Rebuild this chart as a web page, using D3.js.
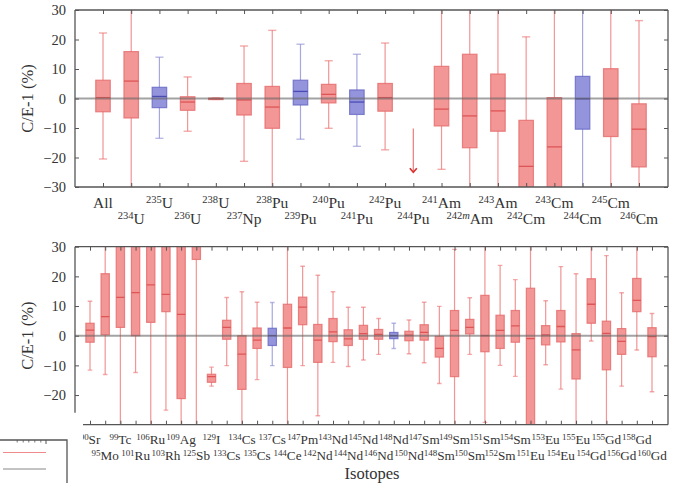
<!DOCTYPE html>
<html>
<head>
<meta charset="utf-8">
<script src="https://cdnjs.cloudflare.com/ajax/libs/d3/7.8.5/d3.min.js"></script>
<style>
  body { margin: 0; background: #fff; }
  svg { font-family: "Liberation Serif", "DejaVu Serif", serif; }
</style>
</head>
<body>
<svg id="chart" width="673" height="483"></svg>
<script>
// box stats per isotope: [whisker low, q1, median, q3, whisker high]  (values beyond +/-30 are clipped)
const topCats = ["All", "234U", "235U", "236U", "238U", "237Np", "238Pu", "239Pu", "240Pu", "241Pu",
  "242Pu", "244Pu", "241Am", "242mAm", "243Am", "242Cm", "243Cm", "244Cm", "245Cm", "246Cm"];
const topBoxes = [
  [-20.5, -4.5, 0.3, 6.2, 22.2],
  [-40, -6.6, 5.9, 15.9, 40],
  [-13.5, -3.1, 0.7, 3.8, 14],
  [-11.1, -4, -1.2, 0.6, 7.3],
  [-0.3, -0.25, -0.1, 0.15, 0.2],
  [-21.3, -5.6, -0.5, 5.1, 17.8],
  [-40, -10.1, -2.9, 4.1, 23.1],
  [-13.8, -2.2, 2.4, 6.2, 18.4],
  [-10.1, -1.5, 1.4, 4.8, 12.8],
  [-16.2, -5.4, -1.2, 2.9, 15],
  [-17.4, -4.3, 0.3, 5.1, 18.8],
  null,
  [-24, -9.3, -3.6, 10.9, 40],
  [-40, -16.7, -5.9, 15, 40],
  [-40, -11.1, -4.2, 8.3, 40],
  [-40, -40, -23, -7.4, 20.9],
  [-40, -40, -16.4, 0.3, 40],
  [-40, -10.4, -0.1, 7.5, 40],
  [-40, -12.9, -0.1, 10.1, 40],
  [-40, -23.2, -10.4, -1.8, 26.4]
];
const topBlue = ["235U", "239Pu", "241Pu", "244Cm"];
// 244Pu is shown only as an arrow: [from, to]
const topArrow = { cat: "244Pu", from: -10.2, to: -25 };

const botCats = ["90Sr", "95Mo", "99Tc", "101Ru", "106Ru", "103Rh", "109Ag", "125Sb", "129I", "133Cs",
  "134Cs", "135Cs", "137Cs", "144Ce", "147Pm", "142Nd", "143Nd", "144Nd", "145Nd", "146Nd",
  "148Nd", "150Nd", "147Sm", "148Sm", "149Sm", "150Sm", "151Sm", "152Sm", "154Sm", "151Eu",
  "153Eu", "154Eu", "155Eu", "154Gd", "155Gd", "156Gd", "158Gd", "160Gd"];
const botBoxes = [
  [-11.6, -2.2, 1.9, 4.2, 11.6],
  [-13.1, 0.3, 6.4, 20.9, 40],
  [-40, 2.8, 12.9, 40, 40],
  [-12.4, 0, 14.5, 40, 40],
  [-40, 4.5, 17.1, 40, 40],
  [-25.1, 8.1, 13.9, 40, 40],
  [-40, -21.2, 7.2, 40, 40],
  [-40, 25.7, 35, 40, 40],
  [-17, -15.7, -13.8, -13, -10.6],
  [-10.1, -1.2, 2.8, 5.2, 12.9],
  [-40, -18.1, -6.2, 0, 14.8],
  [-14.8, -4.3, -1.5, 2.6, 11.3],
  [-10.1, -3.3, 0, 2.5, 11.2],
  [-40, -10.7, 2.6, 10.6, 40],
  [-10.1, 3.7, 9.6, 13, 23.4],
  [-27, -9, -1.5, 3.8, 20.4],
  [-9, -2, 1.3, 5.8, 14.8],
  [-10.4, -3.3, -1.1, 2, 9.6],
  [-8.2, -1.2, 0.7, 3.5, 9.6],
  [-6.3, -1.2, 0.4, 2.1, 5.8],
  [-4.3, -1, 0, 1.1, 4.2],
  [-6.1, -1.7, 0.2, 1.5, 5.3],
  [-9.1, -1.5, 1.1, 3.7, 11.3],
  [-16.1, -7.2, -4.3, -0.2, 9.9],
  [-40, -13.8, 1.8, 8.5, 29.1],
  [-6.3, 0.6, 2.8, 5.5, 12.8],
  [-29.2, -5.4, 0, 13.6, 40],
  [-10, -4.3, 1.8, 6.9, 23.7],
  [-13.7, -2.2, 3.3, 8.5, 18.9],
  [-40, -40, -1, 16, 40],
  [-9.8, -3.1, 0.3, 3.4, 11.8],
  [-18, -2.1, 3.1, 8.5, 23.3],
  [-40, -14.6, -4.8, 0.7, 20.9],
  [-1.8, 4.2, 10.6, 19.2, 40],
  [-40, -11.5, 0.8, 4.9, 27],
  [-17, -6.3, -1.9, 2.4, 14.5],
  [-4.8, 8.1, 11.9, 19.3, 40],
  [-18.9, -7.1, -0.3, 2.7, 7.5]
];
const botBlue = ["137Cs", "148Nd"];

const yTicks = [-30, -20, -10, 0, 10, 20, 30];
const yTicksBot = [-20, -10, 0, 10, 20, 30];

const svg = d3.select("#chart");
const frameColor = "#555";
const red = { fill: "#f29696", edge: "#e66a6a", med: "#df5555", whisk: "#ec7272" };
const blue = { fill: "#9494dc", edge: "#6666c6", med: "#4b4bb5", whisk: "#8a8ad6" };

function labelText(sel, name) {
  const m = name.match(/^(\d+)(m?)(.*)$/);
  if (!m) { sel.append("tspan").text(name); return; }
  sel.append("tspan").attr("font-size", "0.68em").attr("dy", "-0.45em").text(m[1]);
  if (m[2]) sel.append("tspan").attr("font-size", "0.68em").attr("font-style", "italic").text(m[2]);
  sel.append("tspan").attr("dy", "0.3em").text(m[3]);
}

function panel(opt) {
  const { cats, boxes, blues, x, y, left, right, top, bottom, boxW, id } = opt;
  const g = svg.append("g");

  g.append("clipPath").attr("id", "clip" + id)
    .append("rect").attr("x", left).attr("y", top).attr("width", right - left).attr("height", bottom - top);
  const plot = g.append("g").attr("clip-path", `url(#clip${id})`);

  cats.forEach((c, i) => {
    const b = boxes[i];
    if (!b) return;
    const col = blues.includes(c) ? blue : red;
    const cx = x(c);
    // whisker
    plot.append("line").attr("x1", cx).attr("x2", cx).attr("y1", y(b[0])).attr("y2", y(b[4]))
      .attr("stroke", col.whisk).attr("stroke-width", 1.2).attr("stroke-opacity", 0.75);
    [b[0], b[4]].forEach(v => {
      plot.append("line").attr("x1", cx - boxW * 0.28).attr("x2", cx + boxW * 0.28)
        .attr("y1", y(v)).attr("y2", y(v))
        .attr("stroke", col.whisk).attr("stroke-width", 1.4).attr("stroke-opacity", 0.6);
    });
    plot.append("rect").attr("x", cx - boxW / 2).attr("width", boxW)
      .attr("y", y(b[3])).attr("height", Math.max(1.5, y(b[1]) - y(b[3])))
      .attr("fill", col.fill).attr("stroke", col.edge).attr("stroke-width", 1.2).attr("stroke-opacity", 0.8);
    plot.append("line").attr("x1", cx - boxW / 2).attr("x2", cx + boxW / 2)
      .attr("y1", y(b[2])).attr("y2", y(b[2]))
      .attr("stroke", col.med).attr("stroke-width", 1.3);
  });

  // zero reference line
  plot.append("line").attr("x1", left).attr("x2", right).attr("y1", y(0)).attr("y2", y(0))
    .attr("stroke", "#666").attr("stroke-width", 2).attr("stroke-opacity", 0.6);

  // ticks
  const tickStyle = s => { s.select(".domain").remove(); s.selectAll("line").attr("stroke", frameColor); };
  g.append("g").attr("transform", `translate(0,${top})`)
    .call(d3.axisTop(x).tickSizeInner(-4).tickSizeOuter(0).tickFormat(""))
    .call(tickStyle);
  g.append("g").attr("transform", `translate(0,${bottom})`)
    .call(d3.axisBottom(x).tickSizeInner(-4).tickSizeOuter(0).tickFormat(""))
    .call(tickStyle);
  const ya = g.append("g").attr("transform", `translate(${left},0)`)
    .call(d3.axisLeft(y).tickValues(opt.ticks).tickSizeInner(-4).tickSizeOuter(0).tickPadding(9))
    .call(tickStyle);
  ya.selectAll("text").attr("font-size", 14.5).attr("fill", "#333").attr("font-family", "Liberation Serif, serif");
  g.append("g").attr("transform", `translate(${right},0)`)
    .call(d3.axisRight(y).tickValues(opt.ticks).tickSizeInner(-4).tickSizeOuter(0).tickFormat(""))
    .call(tickStyle);

  // frame
  const fr = g.append("g").attr("stroke", frameColor).attr("stroke-width", 1.3).attr("fill", "none");
  fr.append("line").attr("x1", left).attr("x2", right).attr("y1", top).attr("y2", top);
  fr.append("line").attr("x1", opt.bottomStart).attr("x2", right).attr("y1", bottom).attr("y2", bottom);
  fr.append("line").attr("x1", left).attr("x2", left).attr("y1", top).attr("y2", opt.leftEnd);
  fr.append("line").attr("x1", right).attr("x2", right).attr("y1", top).attr("y2", bottom);

  // category labels, staggered on two rows
  g.append("clipPath").attr("id", "lclip" + id)
    .append("rect").attr("x", opt.bottomStart).attr("y", bottom).attr("width", 700).attr("height", 60);
  const lab = g.append("g").attr("clip-path", `url(#lclip${id})`);
  cats.forEach((c, i) => {
    const t = lab.append("text").attr("x", x(c))
      .attr("y", bottom + (i % 2 === 0 ? opt.row1 : opt.row2))
      .attr("text-anchor", "middle").attr("font-size", opt.labelSize).attr("fill", "#333");
    labelText(t, c);
  });

  // y label
  svg.append("text").attr("transform", `translate(33,${(y(0))}) rotate(-90)`)
    .attr("text-anchor", "middle").attr("font-size", 16.5).attr("fill", "#333").text("C/E-1 (%)");

  return { g, plot };
}

// top panel
const xTop = d3.scalePoint().domain(topCats).range([103, 639]);
const yTop = d3.scaleLinear().domain([-30, 30]).range([187, 10]);
const topP = panel({ cats: topCats, boxes: topBoxes, blues: topBlue, x: xTop, y: yTop,
  left: 75, right: 668, top: 10, bottom: 187, boxW: 14.5, id: "t", ticks: yTicks,
  bottomStart: 75, leftEnd: 187, row1: 21, row2: 37, labelSize: 15.5 });

// arrow for 244Pu
const ax = xTop(topArrow.cat);
topP.plot.append("line").attr("x1", ax).attr("x2", ax)
  .attr("y1", yTop(topArrow.from)).attr("y2", yTop(topArrow.to))
  .attr("stroke", "#ee7b7b").attr("stroke-width", 1.2);
topP.plot.append("path")
  .attr("d", `M${ax - 3.5},${yTop(topArrow.to) - 4} L${ax},${yTop(topArrow.to)} L${ax + 3.5},${yTop(topArrow.to) - 4}`)
  .attr("fill", "none").attr("stroke", "#d93030").attr("stroke-width", 1.6);

// bottom panel
const xBot = d3.scalePoint().domain(botCats).range([90, 652]);
const yBot = d3.scaleLinear().domain([-30, 30]).range([424.7, 246.7]);
panel({ cats: botCats, boxes: botBoxes, blues: botBlue, x: xBot, y: yBot,
  left: 75, right: 668, top: 246.7, bottom: 424.7, boxW: 8.3, id: "b", ticks: yTicksBot,
  bottomStart: 83, leftEnd: yBot(-26), row1: 19, row2: 35, labelSize: 13.2 });

svg.append("text").attr("x", 372).attr("y", 479).attr("text-anchor", "middle")
  .attr("font-size", 16.5).attr("fill", "#333").text("Isotopes");

// clipped legend fragment in the lower-left corner
const leg = svg.append("g");
const lx = d3.scaleLinear().domain([0, 1]).range([3, 46]);
leg.append("path").attr("d", "M0,440 H67 V483").attr("fill", "none").attr("stroke", frameColor).attr("stroke-width", 1.3);
leg.selectAll(".lt").data([0.33, 0.47, 0.6, 0.74, 0.88]).join("line")
  .attr("x1", d => lx(d)).attr("x2", d => lx(d)).attr("y1", 440).attr("y2", 442.5)
  .attr("stroke", frameColor).attr("stroke-width", 0.8);
leg.append("line").attr("x1", lx(1)).attr("x2", lx(1)).attr("y1", 440).attr("y2", 444)
  .attr("stroke", frameColor).attr("stroke-width", 1);
leg.append("line").attr("x1", lx(0)).attr("x2", lx(1)).attr("y1", 452.5).attr("y2", 452.5)
  .attr("stroke", "#f08a8a").attr("stroke-width", 1.2);
leg.append("line").attr("x1", lx(0)).attr("x2", lx(1)).attr("y1", 469).attr("y2", 469)
  .attr("stroke", "#888").attr("stroke-width", 1.2);
</script>
</body>
</html>
